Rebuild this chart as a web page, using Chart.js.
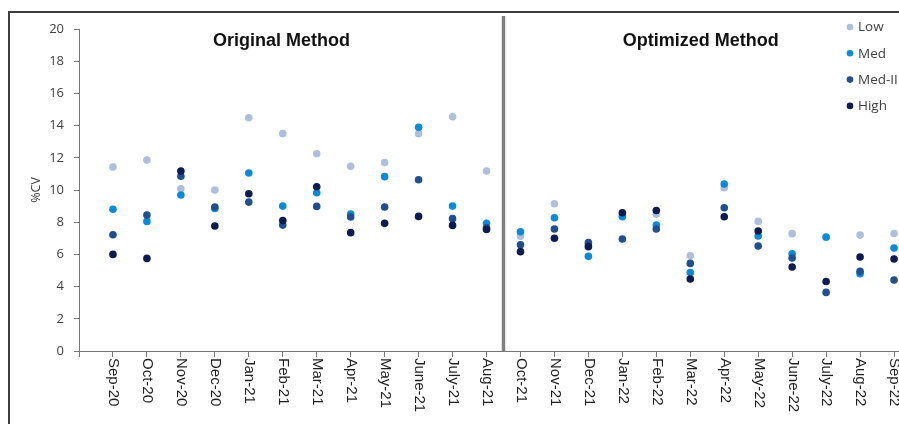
<!DOCTYPE html>
<html>
<head>
<meta charset="utf-8">
<script src="https://cdn.jsdelivr.net/npm/chart.js@4.4.1/dist/chart.umd.min.js"></script>
<style>
  html, body { margin: 0; padding: 0; background: #fff; overflow: hidden; width: 899px; height: 424px; }
  #frame { position: absolute; left: 8px; top: 11px; width: 1000px; height: 500px;
           border-top: 2px solid #3d3d3d; border-left: 2px solid #3d3d3d; }
  #wrap { position: absolute; left: 0; top: 0; width: 960px; height: 424px; }
</style>
</head>
<body>
<div id="frame"></div>
<div id="wrap"><canvas id="cv"></canvas></div>
<script>
// Monthly QC samples, original method (Sep-20 .. Aug-21) then optimized method (Oct-21 .. Sep-22)
const months = ['Sep-20','Oct-20','Nov-20','Dec-20','Jan-21','Feb-21','Mar-21','Apr-21','May-21','June-21','July-21','Aug-21',
                'Oct-21','Nov-21','Dec-21','Jan-22','Feb-22','Mar-22','Apr-22','May-22','June-22','July-22','Aug-22','Sep-22'];

// %CV per control level
const lowCV  = [11.43, 11.86, 10.08, 10.00, 14.49, 13.50, 12.25, 11.47, 11.71, 13.50, 14.55, 11.18,
                7.12, 9.15, 6.60, 8.45, 8.49, 5.92, 10.14, 8.05, 7.29, 7.05, 7.20, 7.30];
const medCV  = [8.80, 8.05, 9.69, 8.85, 11.06, 9.00, 9.83, 8.51, 10.83, 13.89, 9.00, 7.93,
                7.41, 8.28, 5.88, 8.34, 7.82, 4.88, 10.37, 7.14, 6.04, 7.08, 4.80, 6.40];
const med2CV = [7.22, 8.45, 10.85, 8.94, 9.25, 7.82, 8.98, 8.32, 8.94, 10.64, 8.22, 7.65,
                6.60, 7.58, 6.73, 6.96, 7.58, 5.44, 8.90, 6.52, 5.78, 3.64, 4.95, 4.41];
const highCV = [6.00, 5.75, 11.18, 7.76, 9.77, 8.11, 10.20, 7.35, 7.93, 8.36, 7.80, 7.55,
                6.17, 7.00, 6.48, 8.59, 8.73, 4.47, 8.34, 7.45, 5.22, 4.32, 5.84, 5.71];

const seriesNames  = ['Low', 'Med', 'Med-II', 'High'];
const seriesValues = [lowCV, medCV, med2CV, highCV];
const seriesColors = ['#AEBEDF', '#0A8AD8', '#1F4E91', '#0C1B52'];

const periodTitles = ['Original Method', 'Optimized Method'];
const periodTitleAt = [5.96, 18.31];   // x-scale position of each period heading
const periodSplitAt = 12.5;            // between Aug-21 and Oct-21

const toPoints = arr => arr.map((v, i) => ({ x: i + 1, y: v }));

const datasets = seriesNames.map((name, k) => ({
  label: name,
  data: toPoints(seriesValues[k]),
  backgroundColor: seriesColors[k],
  borderWidth: 0,
  pointRadius: 3.8,
  showLine: false,
  order: seriesNames.length - k   // later series drawn on top
}));

const axisColor = '#767676';

const decor = {
  id: 'decor',
  afterDraw(chart) {
    const { ctx, chartArea, scales: { x, y } } = chart;
    ctx.save();

    // divider between the two methods
    const sx = x.getPixelForValue(periodSplitAt);
    ctx.strokeStyle = '#808080';
    ctx.lineWidth = 3.5;
    ctx.beginPath();
    ctx.moveTo(sx, 16);
    ctx.lineTo(sx, chartArea.bottom);
    ctx.stroke();

    // month labels, reading top to bottom
    ctx.fillStyle = '#1e1e1e';
    ctx.font = '15px "Liberation Sans", Arial, sans-serif';
    ctx.textAlign = 'left';
    ctx.textBaseline = 'middle';
    months.forEach((m, i) => {
      const px = x.getPixelForValue(i + 1);
      ctx.save();
      ctx.translate(px + 0.5, chartArea.bottom + 7);
      ctx.rotate(Math.PI / 2);
      ctx.fillText(m, 0, 0);
      ctx.restore();
    });

    // period headings
    ctx.fillStyle = '#111';
    ctx.font = 'bold 18px "Liberation Sans", Arial, sans-serif';
    ctx.textAlign = 'center';
    ctx.textBaseline = 'alphabetic';
    periodTitles.forEach((t, i) => {
      ctx.fillText(t, x.getPixelForValue(periodTitleAt[i]), 46);
    });

    // legend
    ctx.font = '13.5px "Open Sans", sans-serif';
    ctx.textAlign = 'left';
    ctx.textBaseline = 'middle';
    seriesNames.forEach((name, k) => {
      const ly = 27 + k * 26.3;
      ctx.fillStyle = seriesColors[k];
      ctx.beginPath();
      ctx.arc(850, ly, 3.3, 0, Math.PI * 2);
      ctx.fill();
      ctx.fillStyle = '#404040';
      ctx.fillText(name, 858, ly + 0.5);
    });

    ctx.restore();
  }
};

new Chart(document.getElementById('cv'), {
  type: 'scatter',
  data: { datasets },
  plugins: [decor],
  options: {
    responsive: true,
    maintainAspectRatio: false,
    animation: false,
    layout: { padding: { top: 29, right: 32, left: 0, bottom: 0 } },
    plugins: { legend: { display: false }, tooltip: { enabled: false } },
    scales: {
      x: {
        type: 'linear', min: 0, max: 25,
        afterFit(s) { s.height = 73; },
        ticks: { display: false, stepSize: 1 },
        grid: { drawOnChartArea: false, drawTicks: true, tickLength: 6, color: axisColor, lineWidth: 1 },
        border: { color: axisColor, width: 1 }
      },
      y: {
        min: 0, max: 20,
        afterFit(s) { s.width = 79; },
        ticks: { stepSize: 2, padding: 10, color: '#404040', font: { family: 'Open Sans', size: 13 } },
        grid: { drawOnChartArea: false, drawTicks: true, tickLength: 5, color: axisColor, lineWidth: 1 },
        border: { color: axisColor, width: 1 },
        title: { display: true, text: '%CV', color: '#404040',
                 font: { family: 'Open Sans', size: 12.5 }, padding: { top: 29, bottom: 0 } }
      }
    }
  }
});
</script>
</body>
</html>
